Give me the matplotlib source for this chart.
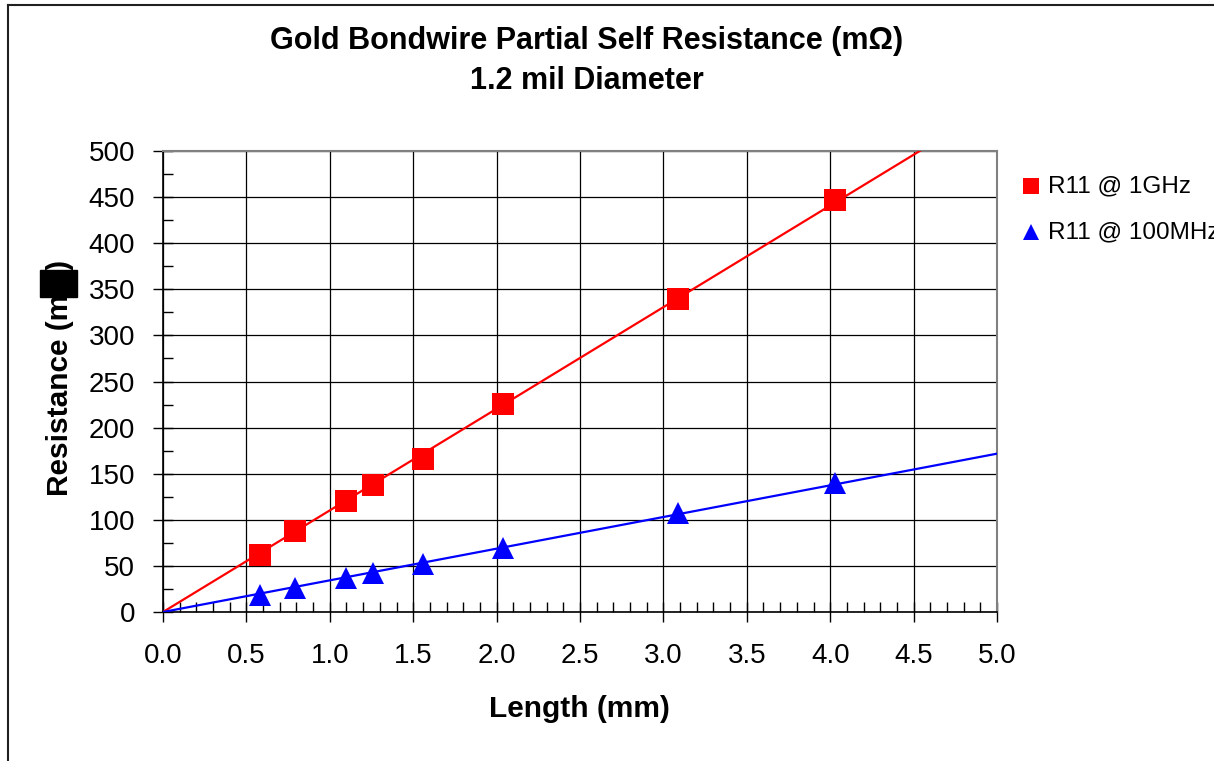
import matplotlib.pyplot as plt
import numpy as np
from matplotlib.lines import Line2D
from matplotlib.patches import Rectangle
from matplotlib.ticker import MultipleLocator

plt.rcParams['font.family'] = ['Liberation Sans', 'DejaVu Sans']

# bondwire lengths (mm) and partial self resistance (mOhm)
length_mm = [0.58, 0.79, 1.10, 1.26, 1.56, 2.04, 3.09, 4.03]
r11_1ghz = [62, 88, 120, 138, 166, 226, 340, 447]
r11_100mhz = [18, 26, 37, 42, 52, 69, 107, 140]

x_ticks = [0.0, 0.5, 1.0, 1.5, 2.0, 2.5, 3.0, 3.5, 4.0, 4.5, 5.0]
y_ticks = [0, 50, 100, 150, 200, 250, 300, 350, 400, 450, 500]

W, H = 1214, 761
fig = plt.figure(figsize=(W / 100, H / 100), dpi=100)
ax = fig.add_axes([163 / W, 1 - 612 / H, (997 - 163) / W, (612 - 151) / H])

x = np.array(length_mm)
xs = np.array([0.0, 5.0])
for vals, color, marker, ms in [(r11_1ghz, 'red', 's', 15.5), (r11_100mhz, 'blue', '^', 16)]:
    y = np.array(vals)
    # trendline through the origin
    slope = np.sum(x * y) / np.sum(x * x)
    ax.plot(xs, slope * xs, color=color, lw=1.6, zorder=3)
    ax.plot(x, y, linestyle='none', marker=marker, ms=ms, color=color,
            markeredgewidth=0, zorder=4)

ax.set_xlim(0, 5)
ax.set_ylim(0, 500)
ax.set_xticks(x_ticks)
ax.set_xticklabels([f'{t:.1f}' for t in x_ticks])
ax.set_yticks(y_ticks)
ax.xaxis.set_minor_locator(MultipleLocator(0.1))
ax.yaxis.set_minor_locator(MultipleLocator(25))
ax.tick_params(which='major', direction='inout', length=14, width=1, labelsize=20,
               color='black')
ax.tick_params(axis='x', which='major', pad=15)
ax.tick_params(axis='y', which='major', pad=13)
ax.tick_params(which='minor', direction='in', length=7, width=1, color='black')
ax.grid(True, which='major', color='black', lw=0.9)
ax.set_axisbelow(True)
for side in ['top', 'right']:
    ax.spines[side].set_color('#808080')
    ax.spines[side].set_linewidth(1.5)
for side in ['left', 'bottom']:
    ax.spines[side].set_color('black')
    ax.spines[side].set_linewidth(1.2)

fig.text(579 / W, 1 - 709 / H, 'Length (mm)', fontsize=21.5, fontweight='bold',
         ha='center', va='center')
fig.text(60 / W, 1 - 378 / H, 'Resistance (m\u03a9)', rotation=90, fontsize=21.5,
         fontweight='bold', ha='center', va='center')
fig.patches.append(Rectangle((40 / W, 1 - 297 / H), 37 / W, 27 / H,
                             transform=fig.transFigure, color='black'))

fig.text(587 / W, 1 - 41 / H, 'Gold Bondwire Partial Self Resistance (m\u03a9)',
         fontsize=22, fontweight='bold', ha='center', va='center')
fig.text(587 / W, 1 - 81 / H, '1.2 mil Diameter',
         fontsize=22, fontweight='bold', ha='center', va='center')

# legend entries placed by hand
for row_y, color, marker, label in [(186, 'red', 's', 'R11 @ 1GHz'),
                                     (232, 'blue', '^', 'R11 @ 100MHz')]:
    fig.add_artist(Line2D([1031 / W], [1 - row_y / H], marker=marker, ms=12,
                          color=color, markeredgewidth=0, transform=fig.transFigure))
    fig.text(1048 / W, 1 - row_y / H, label, fontsize=17.5, ha='left', va='center')

# outer frame
fig.add_artist(Line2D([8 / W, 8 / W], [0, 1 - 5 / H], color='#202020', lw=1.5,
                      transform=fig.transFigure))
fig.add_artist(Line2D([8 / W, 1], [1 - 5 / H, 1 - 5 / H], color='#202020', lw=1.5,
                      transform=fig.transFigure))

fig.savefig('out.png', dpi=100)
